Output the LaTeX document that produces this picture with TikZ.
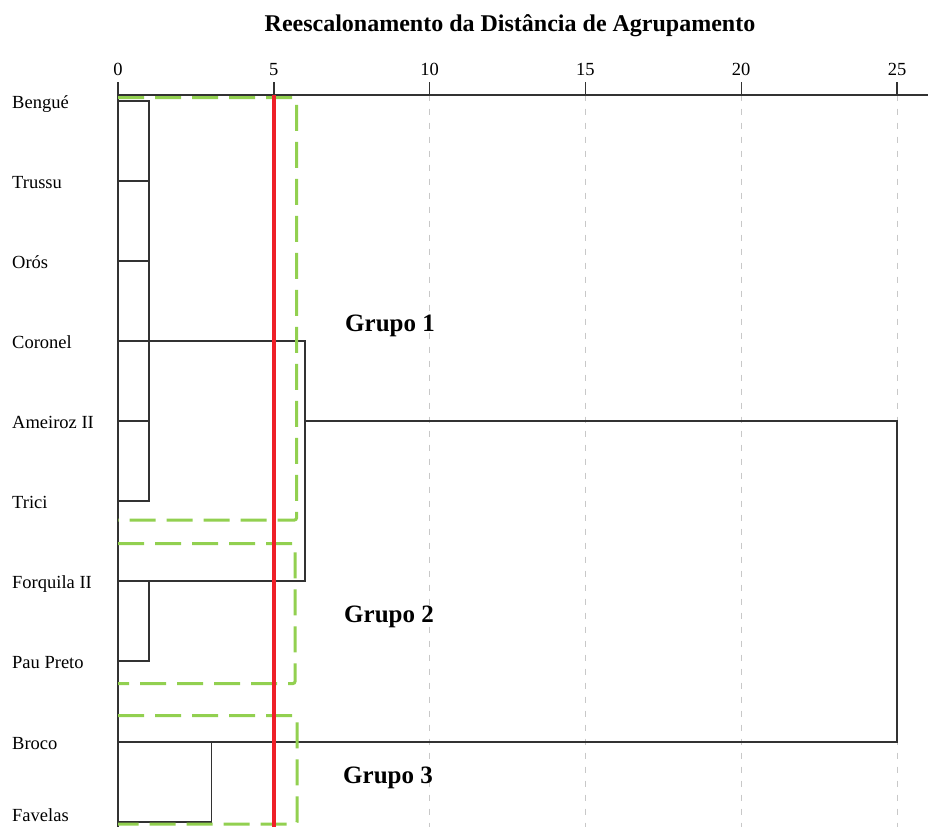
\documentclass[tikz,border=0pt]{standalone}
\usepackage{fontspec}
\setmainfont{Liberation Serif}
\definecolor{dendro}{RGB}{50,50,50}
\definecolor{cutred}{RGB}{238,32,40}
\definecolor{grpgreen}{RGB}{146,208,80}
\definecolor{gridgray}{RGB}{200,200,200}
\begin{document}
\begin{tikzpicture}[x=1pt,y=-1pt,
  leaflabel/.style={anchor=base west,inner sep=0pt,font=\fontsize{18.5}{21}\selectfont},
  ticklabel/.style={anchor=base,inner sep=0pt,font=\fontsize{18.5}{21}\selectfont},
  grouplabel/.style={anchor=base,inner sep=0pt,font=\fontsize{25}{28}\selectfont\bfseries},
  titlelabel/.style={anchor=base,inner sep=0pt,font=\fontsize{24}{27}\selectfont\bfseries},
  link/.style={draw=dendro,line width=1.4pt},
  axisline/.style={draw=dendro,line width=2pt},
  gridline/.style={draw=gridgray,line width=1pt,dash pattern=on 6pt off 8pt},
  cutline/.style={draw=cutred,line width=3.5pt},
  groupbox/.style={draw=grpgreen,line width=3pt,dash pattern=on 26pt off 11pt,rounded corners=2pt}]
\useasboundingbox (0,0) rectangle (928,827);
\fill[white] (0,0) rectangle (928,827);

% title
\node[titlelabel] (title) at (510,31.7) {Reescalonamento da Distância de Agrupamento};

% axis coordinates
\foreach \v/\xx in {0/118,5/273.8,10/429.6,15/585.4,20/741.2,25/897}{
  \coordinate (t\v) at (\xx,94.5);
  \coordinate (tt\v) at (\xx,82);
  \coordinate (b\v) at (\xx,827);
  \node[ticklabel] (lab\v) at (\xx,75) {\v};
}
\coordinate (axend) at (928,94.5);

% grid lines
\foreach \v in {10,15,20,25}{ \draw[gridline] (t\v) -- (b\v); }

% ticks and axis
\foreach \v in {0,5,10,15,20,25}{ \draw[axisline,line width=1.4pt] (tt\v) -- (t\v); }
\draw[axisline] (t0) -- (axend);
\draw[axisline] (t0) -- (b0);

% leaves
\foreach \n/\name/\yy/\by in {1/Bengué/101/108,2/Trussu/181/188,3/Orós/261/268,4/Coronel/341/348,5/Ameiroz II/421/428,6/Trici/501/508,7/Forquila II/581/588,8/Pau Preto/661/668,9/Broco/742/749,10/Favelas/822/821}{
  \coordinate (leaf\n) at (118,\yy);
  \node[leaflabel] (name\n) at (12,\by) {\name};
}

% merge points
\coordinate (ma) at (149,101);   % cluster 1 at distance 1
\coordinate (mb) at (149,581);   % Forquila/Pau Preto at distance 1
\coordinate (mc) at (211.5,742); % Broco/Favelas at distance 3
\coordinate (md) at (305,341);   % distance 6
\coordinate (me) at (897,421);   % distance 25

% cluster 1
\draw[link] (leaf1) -- (ma) -- (ma |- leaf6) -- (leaf6);
\foreach \n in {2,3,5}{ \draw[link] (leaf\n) -- (ma |- leaf\n); }
% cluster Forquila / Pau Preto
\draw[link] (mb) -- (mb |- leaf8) -- (leaf8);
% join at 6
\draw[link] (leaf4) -- (md) -- (md |- leaf7) -- (leaf7);
% Broco / Favelas
\draw[link] (leaf9) -- (mc) -- (mc |- leaf10) -- (leaf10);
% final join at 25
\draw[link] (md |- me) -- (me) -- (me |- leaf9) -- (mc);

% group boxes
\coordinate (g1a) at (118,97.5);  \coordinate (g1b) at (296.5,520);
\coordinate (g2a) at (118,543.5); \coordinate (g2b) at (295,683.5);
\coordinate (g3a) at (118,715.5); \coordinate (g3b) at (297,824);
\draw[groupbox] (g1a) -- (g1b |- g1a) -- (g1b) -- (g1a |- g1b);
\draw[groupbox] (g2a) -- (g2b |- g2a) -- (g2b) -- (g2a |- g2b);
\draw[groupbox] (g3a) -- (g3b |- g3a) -- (g3b) -- (g3a |- g3b);

% cut line
\draw[cutline] (t5) -- (b5);

% group labels
\node[grouplabel] (grupo1) at (390,331.5) {Grupo 1};
\node[grouplabel] (grupo2) at (389,622) {Grupo 2};
\node[grouplabel] (grupo3) at (388,783) {Grupo 3};
\end{tikzpicture}
\end{document}
